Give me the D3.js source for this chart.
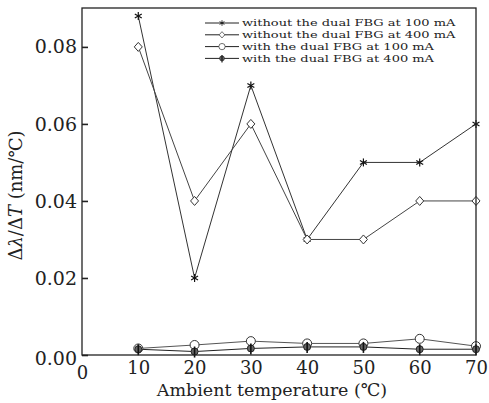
<!DOCTYPE html>
<html>
<head>
<meta charset="utf-8">
<script src="https://d3js.org/d3.v7.min.js"></script>
<style>
  body { margin: 0; background: #fff; }
  svg text { font-family: "DejaVu Serif", "Liberation Serif", serif; fill: #222; }
</style>
</head>
<body>
<svg id="chart" width="489" height="403"></svg>
<script>
// data
const temps = [10, 20, 30, 40, 50, 60, 70];
const without100 = [0.088, 0.020, 0.070, 0.030, 0.050, 0.050, 0.060];
const without400 = [0.080, 0.040, 0.060, 0.030, 0.030, 0.040, 0.040];
const with100 = [0.0017, 0.0026, 0.0036, 0.0030, 0.0030, 0.0042, 0.0023];
const with400 = [0.0015, 0.0009, 0.0017, 0.0021, 0.0021, 0.0015, 0.0015];
const xTicks = [0, 10, 20, 30, 40, 50, 60, 70];
const yTicks = [0, 0.02, 0.04, 0.06, 0.08];
const seriesNames = [
    "without the dual FBG at 100 mA",
    "without the dual FBG at 400 mA",
    "with the dual FBG at 100 mA",
    "with the dual FBG at 400 mA"
];

const margin = { top: 8, right: 13, bottom: 48, left: 82 };
const width = 489 - margin.left - margin.right;
const height = 403 - margin.top - margin.bottom;

const svg = d3.select("#chart");
const g = svg.append("g").attr("transform", `translate(${margin.left},${margin.top})`);

const x = d3.scaleLinear().domain([0, 70]).range([0, width]);
const y = d3.scaleLinear().domain([0, 0.0901]).range([height, 0]);

const series = [
    { name: seriesNames[0], values: without100, marker: "star", color: "#333" },
    { name: seriesNames[1], values: without400, marker: "diamond", color: "#444" },
    { name: seriesNames[2], values: with100, marker: "circle", color: "#555" },
    { name: seriesNames[3], values: with400, marker: "dot", color: "#222" }
];

function drawMarker(sel, type) {
    if (type === "star") {
        for (let a = 0; a < 3; a++) {
            const ang = a * Math.PI / 3 + Math.PI / 2;
            sel.append("line")
                .attr("x1", -4 * Math.cos(ang)).attr("y1", -4 * Math.sin(ang))
                .attr("x2", 4 * Math.cos(ang)).attr("y2", 4 * Math.sin(ang))
                .attr("stroke", "#111").attr("stroke-width", 1.2);
        }
    } else if (type === "diamond") {
        sel.append("path").attr("d", "M0,-4.5L4,0L0,4.5L-4,0Z")
            .attr("fill", "#fff").attr("stroke", "#333").attr("stroke-width", 1);
    } else if (type === "circle") {
        sel.append("circle").attr("r", 4.5)
            .attr("fill", "#fff").attr("stroke", "#333").attr("stroke-width", 1);
    } else {
        sel.append("circle").attr("r", 3.5)
            .attr("fill", "#666").attr("stroke", "#222").attr("stroke-width", 1);
        sel.append("line").attr("x1", 0).attr("x2", 0).attr("y1", -5).attr("y2", 6)
            .attr("stroke", "#111").attr("stroke-width", 1.6);
    }
}

const line = d3.line().x((d, i) => x(temps[i])).y(d => y(d));

series.forEach(s => {
    g.append("path")
        .datum(s.values)
        .attr("d", line)
        .attr("fill", "none")
        .attr("stroke", s.color)
        .attr("stroke-width", 1);
});
series.forEach(s => {
    s.values.forEach((v, i) => {
        const m = g.append("g").attr("transform", `translate(${x(temps[i])},${y(v)})`);
        drawMarker(m, s.marker);
    });
});

// frame
g.append("rect").attr("width", width).attr("height", height)
    .attr("fill", "none").attr("stroke", "#222").attr("stroke-width", 1.3);

// axes (y ticks point inward, no x tick marks)
const xAxis = g.append("g").attr("transform", `translate(0,${height})`)
    .call(d3.axisBottom(x).tickValues(xTicks).tickSize(0).tickPadding(6).tickFormat(d3.format("d")));
const yAxis = g.append("g")
    .call(d3.axisLeft(y).tickValues(yTicks).tickSize(-6).tickPadding(5).tickFormat(d3.format(".2f")));
[xAxis, yAxis].forEach(a => {
    a.select(".domain").remove();
    a.selectAll("line").attr("stroke", "#222").attr("stroke-width", 1.6);
    a.selectAll("text").attr("font-size", 18)
        .attr("font-family", "'DejaVu Serif', serif").attr("fill", "#222");
});
yAxis.selectAll("text").attr("font-size", 19);
xAxis.selectAll(".tick").filter(d => d === 0).select("text").attr("dy", "1.0em");
yAxis.selectAll(".tick").filter(d => d === 0).select("text").attr("dy", "0.5em");

// axis titles
svg.append("text")
    .attr("x", 272).attr("y", 396)
    .attr("text-anchor", "middle").attr("font-size", 17.5)
    .text("Ambient temperature (℃)");

const yl = svg.append("text")
    .attr("transform", `translate(22,${margin.top + height / 2 + 14}) rotate(-90)`)
    .attr("text-anchor", "middle").attr("font-size", 18);
yl.append("tspan").text("Δ");
yl.append("tspan").attr("font-style", "italic").text("λ");
yl.append("tspan").text("/Δ");
yl.append("tspan").attr("font-style", "italic").text("T");
yl.append("tspan").text(" (nm/℃)");

// legend
const legend = g.append("g").attr("transform", "translate(123,15)");
series.forEach((s, i) => {
    const row = legend.append("g").attr("transform", `translate(0,${i * 11.8})`);
    row.append("line").attr("x1", 0).attr("x2", 34).attr("y1", 0).attr("y2", 0)
        .attr("stroke", "#222").attr("stroke-width", 1);
    const m = row.append("g").attr("transform", "translate(17,0) scale(0.7)");
    drawMarker(m, s.marker);
    const t = row.append("text").attr("font-size", 10).attr("dominant-baseline", "central")
        .text(s.name);
    // the source figure is stretched sideways; widen the legend text to match
    t.attr("transform", "translate(37,0) scale(1.3,1)");
});
</script>
</body>
</html>
